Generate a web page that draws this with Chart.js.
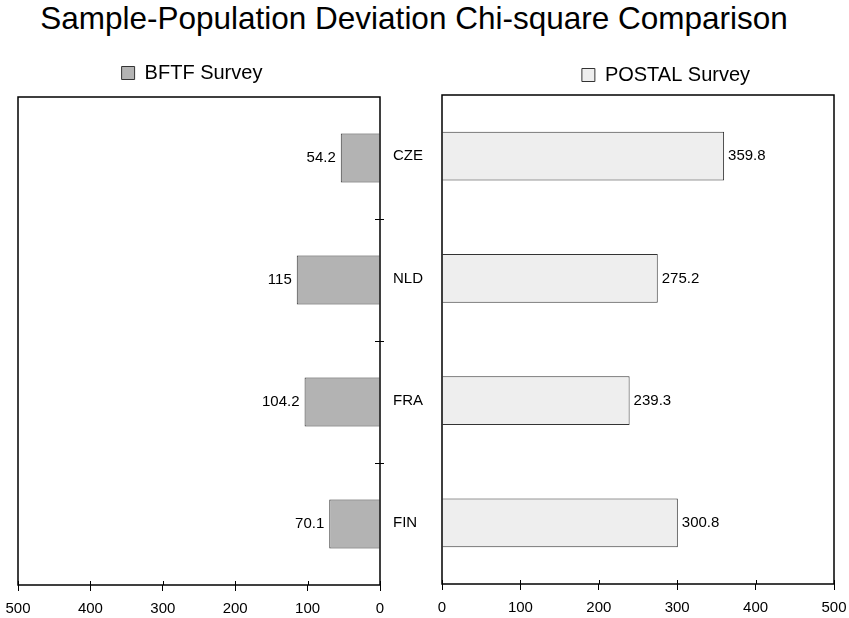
<!DOCTYPE html>
<html>
<head>
<meta charset="utf-8">
<script src="https://cdn.jsdelivr.net/npm/chart.js@4"></script>
<style>
    html, body { margin: 0; padding: 0; background: #fff; overflow: hidden; }
    body { width: 849px; height: 618px; position: relative; font-family: "Liberation Sans", Arial, sans-serif; }
    #titulo { position: absolute; left: 0; top: 0; width: 828px; text-align: center; font-size: 31.5px; color: #000; white-space: nowrap; }
</style>
</head>
<body>
<div id="titulo">Sample-Population Deviation Chi-square Comparison</div>
<canvas id="chartBFTF" width="384" height="618"></canvas>
<canvas id="chartPostal" width="555" height="618"></canvas>
<script>
// dados do gráfico
const categorias = ['CZE', 'NLD', 'FRA', 'FIN'];
const valoresBFTF = [54.2, 115, 104.2, 70.1];
const valoresPostal = [359.8, 275.2, 239.3, 300.8];
const eixoMin = 0;
const eixoMax = 500;
const eixoPasso = 100;

const FONTE = '"Liberation Sans", Arial, sans-serif';
Chart.defaults.font.family = FONTE;
Chart.defaults.color = '#000';

document.getElementById('chartBFTF').style.cssText = 'position:absolute;left:0;top:0;';
document.getElementById('chartPostal').style.cssText = 'position:absolute;left:384px;top:0;';

/**
 * Moldura em volta da área do gráfico + marcas curtas para dentro
 */
const pluginMoldura = {
    id: 'moldura',
    afterDraw(chart, args, opts) {
        const { ctx, chartArea: a, scales } = chart;
        ctx.save();
        ctx.strokeStyle = '#000';
        ctx.lineWidth = 1.5;
        ctx.strokeRect(a.left, a.top, a.right - a.left, a.bottom - a.top);

        ctx.lineWidth = 1;
        ctx.beginPath();
        scales.x.ticks.forEach(t => {
            const px = Math.round(scales.x.getPixelForValue(t.value)) + 0.5;
            ctx.moveTo(px, a.bottom - 4);
            ctx.lineTo(px, a.bottom);
        });
        // cruzes entre categorias no eixo da direita
        if (opts.cruzes) {
            for (let i = 1; i < categorias.length; i++) {
                const y = Math.round((scales.y.getPixelForValue(i - 1) + scales.y.getPixelForValue(i)) / 2) + 0.5;
                ctx.moveTo(a.right - 5, y);
                ctx.lineTo(a.right + 4, y);
            }
        }
        ctx.stroke();
        ctx.restore();
    }
};

// rótulos de valor ao lado de cada barra
const pluginRotulos = {
    id: 'rotulos',
    afterDatasetsDraw(chart, args, opts) {
        const { ctx } = chart;
        const meta = chart.getDatasetMeta(0);
        const valores = chart.data.datasets[0].data;
        ctx.save();
        ctx.font = '15px ' + FONTE;
        ctx.fillStyle = '#000';
        ctx.textBaseline = 'middle';
        ctx.textAlign = opts.lado === 'esquerda' ? 'right' : 'left';
        meta.data.forEach((barra, i) => {
            const x = opts.lado === 'esquerda' ? barra.x - 5 : barra.x + 4;
            ctx.fillText(String(valores[i]), x, barra.y);
        });
        ctx.restore();
    }
};

const eixoX = (reverso) => ({
    type: 'linear',
    min: eixoMin,
    max: eixoMax,
    reverse: reverso,
    border: { display: false },
    grid: { drawOnChartArea: false, drawTicks: true, tickLength: 6, color: '#000', lineWidth: 1 },
    ticks: { stepSize: eixoPasso, font: { size: 15 }, color: '#000', padding: 9, maxRotation: 0 },
    afterFit: s => {
        s.height = 33;
        s.paddingLeft = 0;
        s.paddingRight = 0;
    }
});

// eixo invisível só para reservar espaço
const margem = (eixo, posicao, tamanho) => ({
    type: eixo === 'y' ? 'category' : 'linear',
    axis: eixo,
    position: posicao,
    border: { display: false },
    grid: { display: false },
    ticks: { display: false },
    afterFit: s => {
        if (eixo === 'y') s.width = tamanho; else s.height = tamanho;
        s.paddingLeft = 0; s.paddingRight = 0; s.paddingTop = 0; s.paddingBottom = 0;
    }
});

const legendaBase = {
    display: true,
    position: 'top',
    labels: { font: { size: 20 }, color: '#000', boxWidth: 13, boxHeight: 13, padding: 10 }
};

new Chart(document.getElementById('chartBFTF').getContext('2d'), {
    type: 'bar',
    data: {
        labels: categorias,
        datasets: [{
            label: 'BFTF Survey',
            data: valoresBFTF,
            backgroundColor: '#b3b3b3',
            borderColor: '#333',
            borderWidth: 1,
            barPercentage: 0.4,
            categoryPercentage: 1
        }]
    },
    options: {
        indexAxis: 'y',
        responsive: false,
        animation: false,
        layout: { autoPadding: false, padding: { top: 53, left: 0, right: 0, bottom: 0 } },
        scales: {
            x: eixoX(true),
            y: {
                type: 'category',
                position: 'right',
                border: { display: false },
                grid: { display: false },
                ticks: { display: false },
                afterFit: s => { s.width = 4; }
            },
            yMargem: margem('y', 'left', 18),
            xMargem: margem('x', 'top', 4)
        },
        plugins: {
            legend: legendaBase,
            tooltip: { enabled: false },
            moldura: { cruzes: true },
            rotulos: { lado: 'esquerda' }
        }
    },
    plugins: [pluginMoldura, pluginRotulos]
});

new Chart(document.getElementById('chartPostal').getContext('2d'), {
    type: 'bar',
    data: {
        labels: categorias,
        datasets: [{
            label: 'POSTAL Survey',
            data: valoresPostal,
            backgroundColor: '#eeeeee',
            borderColor: '#333',
            borderWidth: 1,
            barPercentage: 0.4,
            categoryPercentage: 1
        }]
    },
    options: {
        indexAxis: 'y',
        responsive: false,
        animation: false,
        layout: { autoPadding: false, padding: { top: 55, left: 9, right: 0, bottom: 1 } },
        scales: {
            x: eixoX(false),
            y: {
                type: 'category',
                position: 'left',
                border: { display: false },
                grid: { display: false },
                ticks: { font: { size: 15 }, color: '#000', crossAlign: 'far' },
                afterFit: s => { s.width = 49; }
            },
            yMargem: margem('y', 'right', 105)
        },
        plugins: {
            legend: legendaBase,
            tooltip: { enabled: false },
            moldura: { cruzes: false },
            rotulos: { lado: 'direita' }
        }
    },
    plugins: [pluginMoldura, pluginRotulos]
});
</script>
</body>
</html>
